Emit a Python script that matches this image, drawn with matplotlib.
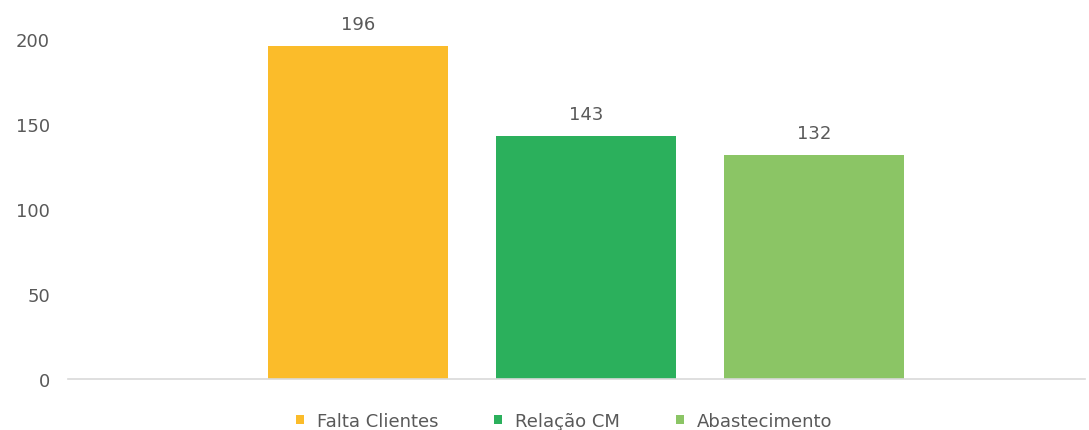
import matplotlib
matplotlib.use("Agg")
import matplotlib.pyplot as plt

categories = ["Falta Clientes", "Relação CM", "Abastecimento"]
values = [196, 143, 132]
colors = ["#FBBC2A", "#2BB05C", "#8BC565"]
yticks = [0, 50, 100, 150, 200]

plt.rcParams["font.family"] = ["DejaVu Sans"]
text_color = "#595959"
fs = 13

fig = plt.figure(figsize=(10.89, 4.31), dpi=100)
ax = fig.add_axes([0.0624, 0.1183, 0.9339, 0.8283])

offsets = [-1, 0, 1]
for off, name, val, col in zip(offsets, categories, values, colors):
    ax.bar(off, val, width=0.79, color=col, label=name, zorder=2)
    ax.annotate(f"{val}", xy=(off, val), xytext=(0, 9), textcoords="offset points",
                ha="center", va="bottom", fontsize=fs, color=text_color)

ax.set_xlim(-2.272, 2.189)
ax.set_ylim(0, 210)
ax.set_yticks(yticks)
ax.set_xticks([])
ax.tick_params(axis="y", length=0, pad=13, labelsize=fs, labelcolor=text_color)
for s in ["top", "right", "left"]:
    ax.spines[s].set_visible(False)
ax.spines["bottom"].set_color("#D9D9D9")
ax.spines["bottom"].set_linewidth(1.2)

leg = fig.legend(loc="center", bbox_to_anchor=(0.518, 0.021), ncol=3, frameon=False,
                 fontsize=fs, handlelength=0.45, handleheight=0.45, handletextpad=0.7,
                 columnspacing=3.1)
for t in leg.get_texts():
    t.set_color(text_color)

fig.savefig("out.png", dpi=100, facecolor="white")
